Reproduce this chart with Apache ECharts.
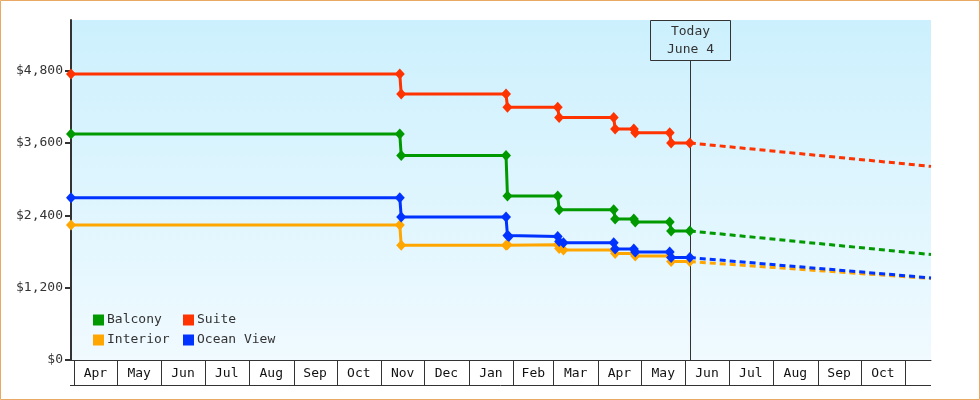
<!DOCTYPE html>
<html lang="en">
<head>
    <meta charset="UTF-8">
    <title>Cruise fares</title>
    <script src="https://cdn.jsdelivr.net/npm/echarts@6/dist/echarts.min.js"></script>
    <style>
        html, body { margin: 0; padding: 0; background: #fff; }
        #fares { width: 980px; height: 400px; }
    </style>
</head>
<body>
    <div id="fares"></div>
    <script>
        // month boxes under the plot
        var monthStarts = ['2014-04-01', '2014-05-01', '2014-06-01', '2014-07-01', '2014-08-01', '2014-09-01',
            '2014-10-01', '2014-11-01', '2014-12-01', '2015-01-01', '2015-02-01', '2015-03-01', '2015-04-01',
            '2015-05-01', '2015-06-01', '2015-07-01', '2015-08-01', '2015-09-01', '2015-10-01', '2015-11-01'];
        var monthLabels = ['Apr', 'May', 'Jun', 'Jul', 'Aug', 'Sep', 'Oct', 'Nov', 'Dec', 'Jan', 'Feb', 'Mar',
            'Apr', 'May', 'Jun', 'Jul', 'Aug', 'Sep', 'Oct'];
        var yTicks = [0, 1200, 2400, 3600, 4800];
        var today = '2015-06-04';
        var todayText = 'Today\nJune 4';

        // price history [date, price]
        var balcony = [['2014-03-30', 3749], ['2014-11-14', 3749], ['2014-11-15', 3394], ['2015-01-27', 3394],
            ['2015-01-28', 2722], ['2015-03-04', 2722], ['2015-03-05', 2491], ['2015-04-12', 2491],
            ['2015-04-13', 2340], ['2015-04-26', 2340], ['2015-04-27', 2291], ['2015-05-21', 2291],
            ['2015-05-22', 2141], ['2015-06-04', 2141]];
        var suite = [['2014-03-30', 4744], ['2014-11-14', 4744], ['2014-11-15', 4412], ['2015-01-27', 4412],
            ['2015-01-28', 4193], ['2015-03-04', 4193], ['2015-03-05', 4024], ['2015-04-12', 4024],
            ['2015-04-13', 3832], ['2015-04-26', 3832], ['2015-04-27', 3770], ['2015-05-21', 3770],
            ['2015-05-22', 3600], ['2015-06-04', 3600]];
        var interior = [['2014-03-30', 2241], ['2014-11-14', 2241], ['2014-11-15', 1903], ['2015-01-27', 1903],
            ['2015-01-28', 1910], ['2015-03-04', 1910], ['2015-03-05', 1850], ['2015-03-08', 1823],
            ['2015-04-12', 1823], ['2015-04-13', 1765], ['2015-04-26', 1765], ['2015-04-27', 1727],
            ['2015-05-21', 1727], ['2015-05-22', 1633], ['2015-06-04', 1633]];
        var oceanView = [['2014-03-30', 2693], ['2014-11-14', 2693], ['2014-11-15', 2373], ['2015-01-27', 2373],
            ['2015-01-28', 2065], ['2015-01-29', 2050], ['2015-03-04', 2050], ['2015-03-05', 1965],
            ['2015-03-08', 1943], ['2015-04-12', 1943], ['2015-04-13', 1843], ['2015-04-26', 1843],
            ['2015-04-27', 1793], ['2015-05-21', 1793], ['2015-05-22', 1699], ['2015-06-04', 1699]];

        // forecast from today
        var balconyFc = [['2015-06-04', 2141], ['2015-11-19', 1749]];
        var suiteFc = [['2015-06-04', 3600], ['2015-11-19', 3212]];
        var interiorFc = [['2015-06-04', 1633], ['2015-11-19', 1352]];
        var oceanViewFc = [['2015-06-04', 1699], ['2015-11-19', 1362]];

        var mono = 'DejaVu Sans Mono';
        var colors = { 'Balcony': '#009900', 'Suite': '#ff3300', 'Interior': '#ffa600', 'Ocean View': '#0033ff' };

        function histSeries(name, data) {
            return {
                name: name, type: 'line', data: data,
                symbol: 'diamond', symbolSize: [10, 11], showSymbol: true,
                lineStyle: { width: 3, color: colors[name] },
                itemStyle: { color: colors[name] },
                z: 3
            };
        }
        function fcSeries(name, data) {
            return {
                name: name, type: 'line', data: data, showSymbol: false,
                lineStyle: { width: 3, type: [6, 4], color: colors[name] },
                itemStyle: { color: colors[name] },
                z: 3
            };
        }

        var myChart = echarts.init(document.getElementById('fares'));
        myChart.setOption({
            animation: false,
            graphic: [{
                type: 'rect', shape: { x: 0.5, y: 0.5, width: 979, height: 399 },
                style: { fill: null, stroke: '#e9a863', lineWidth: 1 }
            }],
            grid: {
                left: 71, right: 49, top: 20, bottom: 40,
                outerBoundsMode: 'none',
                show: true, borderWidth: 0,
                backgroundColor: new echarts.graphic.LinearGradient(0, 0, 0, 1, [
                    { offset: 0, color: '#ccf0fd' },
                    { offset: 1, color: '#f0faff' }
                ])
            },
            legend: [{
                data: ['Balcony', 'Interior'], orient: 'vertical', left: 93, top: 313, padding: 0,
                icon: 'rect', itemWidth: 11, itemHeight: 11, itemGap: 6, selectedMode: false,
                textStyle: { fontFamily: mono, fontSize: 13, color: '#333', lineHeight: 14, padding: [0, 0, 0, -2] }
            }, {
                data: ['Suite', 'Ocean View'], orient: 'vertical', left: 183, top: 313, padding: 0,
                icon: 'rect', itemWidth: 11, itemHeight: 11, itemGap: 6, selectedMode: false,
                textStyle: { fontFamily: mono, fontSize: 13, color: '#333', lineHeight: 14, padding: [0, 0, 0, -2] }
            }],
            xAxis: {
                type: 'time', min: '2014-03-30', max: '2015-11-19',
                axisLine: { show: true, lineStyle: { color: '#333', width: 1 } },
                axisTick: { show: false },
                axisLabel: { show: false },
                splitLine: { show: false }
            },
            yAxis: {
                type: 'value', min: 0, max: 5640, interval: 1200,
                axisLine: { show: true, lineStyle: { color: '#333', width: 2 } },
                axisTick: { show: true, length: 6, customValues: yTicks, lineStyle: { color: '#333', width: 2 } },
                axisLabel: {
                    customValues: yTicks, margin: 8, color: '#333', fontFamily: mono, fontSize: 13,
                    formatter: function (v) { return '$' + v.toLocaleString('en-US'); }
                },
                splitLine: { show: false }
            },
            series: [
                {
                    type: 'custom', name: 'months', clip: false, silent: true, z: 1,
                    data: monthLabels.map(function (m, i) { return [monthStarts[i], monthStarts[i + 1], 0]; }),
                    encode: { x: [0, 1], y: 2 },
                    renderItem: function (params, api) {
                        var a = api.coord([api.value(0), 0]);
                        var b = api.coord([api.value(1), 0]);
                        var cs = params.coordSys;
                        var y0 = Math.round(a[1]) + 0.5;
                        var xa = Math.round(a[0]) + 0.5;
                        var xb = Math.round(b[0]) + 0.5;
                        var st = { stroke: '#333', lineWidth: 1 };
                        var kids = [
                            { type: 'line', shape: { x1: xa, y1: y0, x2: xa, y2: y0 + 25 }, style: st },
                            {
                                type: 'text', x: (a[0] + b[0]) / 2, y: y0 + 13,
                                style: { text: monthLabels[params.dataIndex], fill: '#111', font: '13px "' + mono + '"', align: 'center', verticalAlign: 'middle' }
                            }
                        ];
                        if (params.dataIndex === monthLabels.length - 1) {
                            kids.push({ type: 'line', shape: { x1: xb, y1: y0, x2: xb, y2: y0 + 25 }, style: st });
                        }
                        if (params.dataIndex === 0) {
                            kids.push({ type: 'line', shape: { x1: cs.x - 1, y1: y0 + 25, x2: cs.x + cs.width, y2: y0 + 25 }, style: st });
                        }
                        return { type: 'group', children: kids };
                    }
                },
                {
                    type: 'custom', name: 'today', clip: false, silent: true, z: 2,
                    data: [[today, 0]],
                    encode: { x: 0, y: 1 },
                    renderItem: function (params, api) {
                        var p = api.coord([api.value(0), 0]);
                        var top = params.coordSys.y;
                        var x = Math.round(p[0]) + 0.5;
                        return {
                            type: 'group', children: [
                                { type: 'line', shape: { x1: x, y1: top + 40, x2: x, y2: p[1] }, style: { stroke: '#333', lineWidth: 1 } },
                                { type: 'rect', shape: { x: x - 40, y: top + 0.5, width: 80, height: 40 }, style: { fill: null, stroke: '#333', lineWidth: 1 } },
                                {
                                    type: 'text', x: x, y: top + 21,
                                    style: { text: todayText, fill: '#333', font: '13px "' + mono + '"', align: 'center', verticalAlign: 'middle', lineHeight: 18 }
                                }
                            ]
                        };
                    }
                },
                fcSeries('Interior', interiorFc),
                fcSeries('Balcony', balconyFc),
                fcSeries('Suite', suiteFc),
                fcSeries('Ocean View', oceanViewFc),
                histSeries('Interior', interior),
                histSeries('Balcony', balcony),
                histSeries('Suite', suite),
                histSeries('Ocean View', oceanView)
            ]
        });
    </script>
</body>
</html>
